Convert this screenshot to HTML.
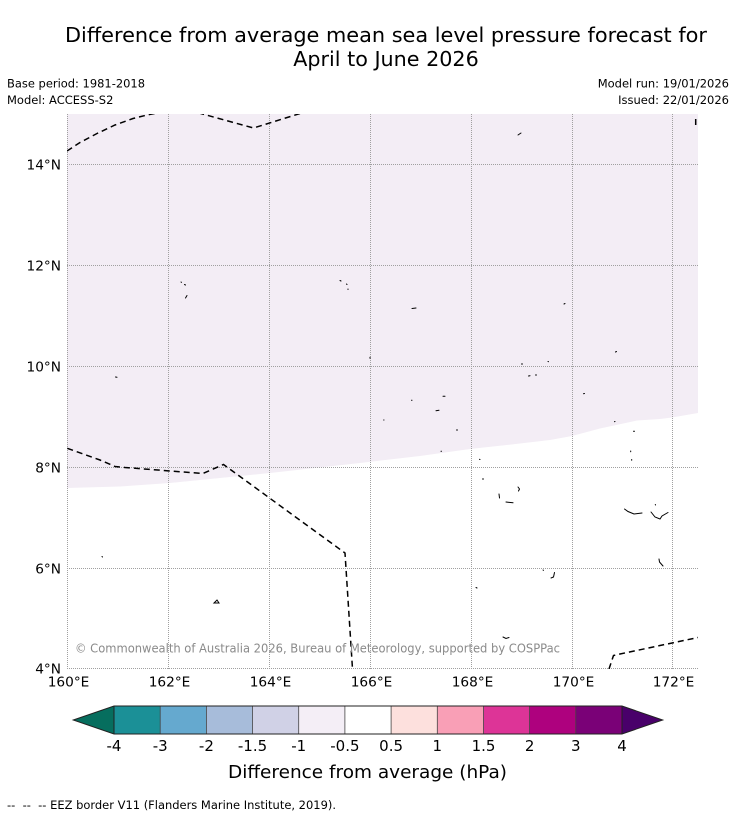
<!DOCTYPE html>
<html><head><meta charset="utf-8"><style>
html,body{margin:0;padding:0;background:#fff;}
svg{display:block;}
text{font-family:"DejaVu Sans","Liberation Sans",sans-serif;}
</style></head><body>
<svg width="736" height="816" viewBox="0 0 736 816" xmlns="http://www.w3.org/2000/svg">
<rect width="736" height="816" fill="#fff"/>
<!-- Title -->
<text x="65" y="42" font-size="20.7" textLength="642" lengthAdjust="spacingAndGlyphs" fill="#000">Difference from average mean sea level pressure forecast for</text>
<text x="386" y="66" font-size="20.7" text-anchor="middle" fill="#000">April to June 2026</text>
<text x="7" y="87.5" font-size="11.5" textLength="138" lengthAdjust="spacingAndGlyphs">Base period: 1981-2018</text>
<text x="7" y="104" font-size="11.5">Model: ACCESS-S2</text>
<text x="729" y="87.5" font-size="11.5" text-anchor="end">Model run: 19/01/2026</text>
<text x="729" y="104" font-size="11.5" text-anchor="end">Issued: 22/01/2026</text>

<defs><clipPath id="pc"><rect x="67" y="114" width="631" height="555"/></clipPath></defs>
<!-- fill -->
<path d="M67,114 L698,114 L698,413 L672,417.5 L660,419 L637,420.5 L600,428.5 L572,436 L550,440 L520,443.5 L470,449 L420,456 L360,463 L270,473 L170,483 L120,486.5 L67,488 Z" fill="#f3edf5"/>
<!-- grid -->
<g stroke="#a0a0a0" stroke-width="1" stroke-dasharray="1 1" fill="none">
<line x1="67.5" y1="114" x2="67.5" y2="669"/>
<line x1="168.5" y1="114" x2="168.5" y2="669"/>
<line x1="269.5" y1="114" x2="269.5" y2="669"/>
<line x1="370.5" y1="114" x2="370.5" y2="669"/>
<line x1="471.5" y1="114" x2="471.5" y2="669"/>
<line x1="572.5" y1="114" x2="572.5" y2="669"/>
<line x1="672.5" y1="114" x2="672.5" y2="669"/>
<line x1="67" y1="164.5" x2="698" y2="164.5"/>
<line x1="67" y1="265.5" x2="698" y2="265.5"/>
<line x1="67" y1="366.5" x2="698" y2="366.5"/>
<line x1="67" y1="467.5" x2="698" y2="467.5"/>
<line x1="67" y1="568.5" x2="698" y2="568.5"/>
<line x1="67" y1="668.5" x2="698" y2="668.5"/>
</g>
<!-- EEZ dashed -->
<g clip-path="url(#pc)" stroke="#000" stroke-width="1.5" stroke-dasharray="6 4" fill="none">
<polyline points="67,151 80,142.5 97,133.5 115,125 133,118.5 147,115 160,112.5 175,110.5 195,112 200,113.3 253.5,128 300,113.5 315,109"/>
<polyline points="67.3,448.3 100,460 115,466.5 125,467.5 203,473.5 223.5,464.5 345,553 352.5,669"/>
<polyline points="609,669 613.5,655.5 620,654 698,637.5"/>
</g>
<line x1="695.7" y1="119" x2="695.7" y2="125" stroke="#000" stroke-width="1.5"/>
<!-- islands -->
<g stroke="#000" stroke-width="1" fill="none" stroke-linecap="round">
<path d="M518,135 L521,133"/>
<path d="M181,282 L181.5,282.3 M184.5,284.5 L185.5,285 M185.5,298 L187,295.5"/>
<path d="M340,280.5 L341,281 M346.5,284 L347,284.5 M348,289 L348,289.5"/>
<path d="M412,308.5 L416,308"/>
<path d="M370,357.3 L370,358.3"/>
<path d="M411.5,400.3 L412,400.3 M443,396.3 L445,396.3 M436,410.7 L439,410.3 M383.7,420 L384,420 M457,429.5 L457,430.5 M441,451.3 L441.5,451.3"/>
<path d="M521.5,364 L522.5,364 M548,361.5 L548.5,361.7 M528.5,376 L530,375.7 M535.5,375 L536.5,375"/>
<path d="M615.5,352 L616.5,351.5 M583.5,393.7 L584.5,393.5 M614.5,421.7 L615,421.5 M633.5,431.3 L634.5,431.3 M630.7,451 L630.7,451.7 M631.7,459.5 L631.7,460.3"/>
<path d="M479.5,459.3 L480,459.5 M482.5,479 L483.5,479"/>
<path d="M499,494 L499.5,498 M506,502 L513,502.8 M518,487 L519.5,489 L518.5,491"/>
<path d="M624.5,509 L628,511.5 L634,514 L642,513"/>
<path d="M651,512 L655,517 L660,519 L662,516 L668,512.5 M655.3,504.5 L655.5,505"/>
<path d="M659,559 L659.5,562 L663,566"/>
<path d="M543,570 L543.5,570.3 M551,578 L553.5,577 L554.5,572.5"/>
<path d="M476,587.5 L477,588"/>
<path d="M503,637 L506,638.5 L509,637.5"/>
<path d="M564,304 L565,303.5"/>
<path d="M115.5,377 L117,377.3"/>
<path d="M102,556.5 L102.5,557"/>
<path d="M214,603 L217,600 L219,603 Z"/>
</g>
<!-- watermark -->
<text x="75" y="652.7" font-size="12" fill="#8a8a8a" textLength="485" lengthAdjust="spacingAndGlyphs">© Commonwealth of Australia 2026, Bureau of Meteorology, supported by COSPPac</text>
<!-- lat ticks -->
<g font-size="13.7" text-anchor="end" fill="#000">
<text x="61" y="169.3">14°N</text>
<text x="61" y="270.3">12°N</text>
<text x="61" y="371.3">10°N</text>
<text x="61" y="472.3">8°N</text>
<text x="61" y="573.3">6°N</text>
<text x="61" y="673.3">4°N</text>
</g>
<g font-size="13.7" text-anchor="middle" fill="#000">
<text x="68.5" y="686.7">160°E</text>
<text x="169.5" y="686.7">162°E</text>
<text x="270.5" y="686.7">164°E</text>
<text x="371.5" y="686.7">166°E</text>
<text x="472.5" y="686.7">168°E</text>
<text x="573.5" y="686.7">170°E</text>
<text x="673.5" y="686.7">172°E</text>
</g>
<!-- colorbar -->
<g>
<polygon points="73.3,720 114,706 114,734" fill="#066e5e"/>
<rect x="114" y="706" width="46.2" height="28" fill="#1b9097"/>
<rect x="160.2" y="706" width="46.2" height="28" fill="#65a9cf"/>
<rect x="206.4" y="706" width="46.2" height="28" fill="#a7bcda"/>
<rect x="252.5" y="706" width="46.2" height="28" fill="#d0d1e6"/>
<rect x="298.7" y="706" width="46.2" height="28" fill="#f4eef6"/>
<rect x="344.9" y="706" width="46.2" height="28" fill="#ffffff"/>
<rect x="391.1" y="706" width="46.2" height="28" fill="#fde0dd"/>
<rect x="437.3" y="706" width="46.2" height="28" fill="#f99fb6"/>
<rect x="483.5" y="706" width="46.2" height="28" fill="#dd3497"/>
<rect x="529.6" y="706" width="46.2" height="28" fill="#ae017e"/>
<rect x="575.8" y="706" width="46.2" height="28" fill="#7a0177"/>
<polygon points="622,706 662.7,720 622,734" fill="#49006a"/>
<g stroke="#444" stroke-width="0.8">
<line x1="160.2" y1="706" x2="160.2" y2="734"/>
<line x1="206.4" y1="706" x2="206.4" y2="734"/>
<line x1="252.5" y1="706" x2="252.5" y2="734"/>
<line x1="298.7" y1="706" x2="298.7" y2="734"/>
<line x1="344.9" y1="706" x2="344.9" y2="734"/>
<line x1="391.1" y1="706" x2="391.1" y2="734"/>
<line x1="437.3" y1="706" x2="437.3" y2="734"/>
<line x1="483.5" y1="706" x2="483.5" y2="734"/>
<line x1="529.6" y1="706" x2="529.6" y2="734"/>
<line x1="575.8" y1="706" x2="575.8" y2="734"/>
</g>
<polygon points="73.3,720 114,706 622,706 662.7,720 622,734 114,734" fill="none" stroke="#222" stroke-width="1"/>
<line x1="114" y1="706" x2="114" y2="734" stroke="#222" stroke-width="1"/>
<line x1="622" y1="706" x2="622" y2="734" stroke="#222" stroke-width="1"/>
</g>
<g font-size="15" text-anchor="middle" fill="#000">
<text x="114" y="751">-4</text>
<text x="160.2" y="751">-3</text>
<text x="206.4" y="751">-2</text>
<text x="252.5" y="751">-1.5</text>
<text x="298.7" y="751">-1</text>
<text x="344.9" y="751">-0.5</text>
<text x="391.1" y="751">0.5</text>
<text x="437.3" y="751">1</text>
<text x="483.5" y="751">1.5</text>
<text x="529.6" y="751">2</text>
<text x="575.8" y="751">3</text>
<text x="622" y="751">4</text>
</g>
<text x="228" y="778" font-size="18" textLength="279" lengthAdjust="spacingAndGlyphs" fill="#000">Difference from average (hPa)</text>
<text x="7" y="809" font-size="11.3" textLength="329" lengthAdjust="spacingAndGlyphs" style="white-space:pre" fill="#000">--  --  -- EEZ border V11 (Flanders Marine Institute, 2019).</text>
</svg>
</body></html>
